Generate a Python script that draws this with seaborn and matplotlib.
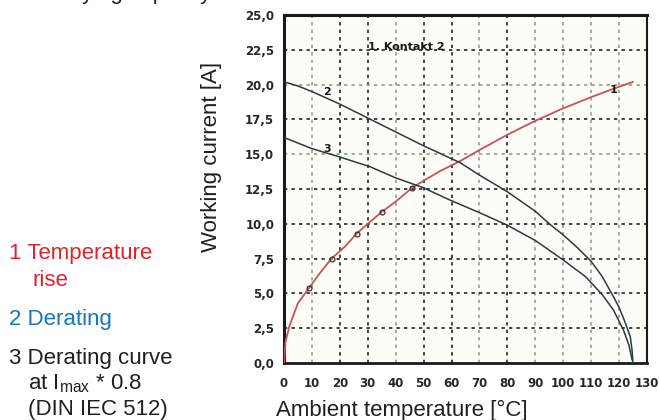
import matplotlib
matplotlib.use("Agg")
import matplotlib.pyplot as plt
import seaborn as sns
import pandas as pd

sns.set_style("white")
plt.rcParams["font.family"] = ["Liberation Sans", "DejaVu Sans"]
plt.rcParams["mathtext.fontset"] = "custom"
plt.rcParams["mathtext.rm"] = "Liberation Sans"

# --- data ---
rise_t = [0, 0.5, 2, 5, 9, 13, 17, 22, 26, 30, 35, 40, 46, 50, 56, 63, 70, 80, 90, 100, 110, 118, 125]
rise_i = [0, 1.5, 2.7, 4.3, 5.4, 6.5, 7.5, 8.4, 9.3, 10.0, 10.85, 11.6, 12.6, 13.1, 13.8, 14.5, 15.3, 16.4, 17.4, 18.3, 19.1, 19.7, 20.2]
rise_mark_t = [9, 17.2, 26.2, 35, 45.9]
rise_mark_i = [5.4, 7.5, 9.3, 10.85, 12.6]

derate_t = [0, 5, 10, 20, 30, 40, 50, 63, 70, 80, 90, 95, 100, 105, 110, 114, 117.6, 120, 122, 124, 124.6, 125]
derate_i = [20.2, 19.9, 19.5, 18.6, 17.6, 16.6, 15.6, 14.4, 13.5, 12.3, 10.9, 10.0, 9.2, 8.3, 7.3, 6.2, 4.9, 4.0, 3.0, 1.9, 1.0, 0]

curve08_t = [0, 5, 10, 20, 30.8, 40, 49.8, 59.5, 70, 80, 90, 100, 108, 114, 118, 121.5, 123.5, 124.7]
curve08_i = [16.2, 15.8, 15.4, 14.8, 14.1, 13.3, 12.6, 11.7, 10.8, 9.9, 8.8, 7.4, 6.2, 4.9, 3.8, 2.4, 1.3, 0.2]

x_ticks = list(range(0, 131, 10))
y_ticks = [0, 2.5, 5, 7.5, 10, 12.5, 15, 17.5, 20, 22.5, 25]
x_grid_dark = [20, 30, 50, 60, 80]
x_grid_light = [10, 40, 70, 90, 100, 110, 120]
y_grid_dark = [2.5, 5, 7.5, 10, 12.5, 17.5, 22.5]
y_grid_light = [15, 20]

fig = plt.figure(figsize=(6.59, 4.20), dpi=100)
ax = fig.add_axes([284 / 659, 1 - 363 / 420, 363 / 659, 348 / 420])
ax.set_facecolor("#fdfdf8")

# grid
for x in x_grid_dark:
    ax.axvline(x, color="#222222", lw=1.2, ls=(0, (2, 2.5)), zorder=1)
for x in x_grid_light:
    ax.axvline(x, color="#9a9a9a", lw=1.2, ls=(0, (2, 2.5)), zorder=1)
for y in y_grid_dark:
    ax.axhline(y, color="#222222", lw=1.2, ls=(0, (2, 2.5)), zorder=1)
for y in y_grid_light:
    ax.axhline(y, color="#8fa07a", lw=1.2, ls=(0, (2, 2.5)), zorder=1)

rise = pd.DataFrame({"t": rise_t, "i": rise_i})
derate = pd.DataFrame({"t": derate_t, "i": derate_i})
c08 = pd.DataFrame({"t": curve08_t, "i": curve08_i})

sns.lineplot(data=rise, x="t", y="i", ax=ax, color="#c8505f", lw=1.3, sort=False, zorder=3)
sns.lineplot(data=derate, x="t", y="i", ax=ax, color="#2c3b3b", lw=1.1, sort=False, zorder=3)
sns.lineplot(data=c08, x="t", y="i", ax=ax, color="#2c3b3b", lw=1.1, sort=False, zorder=3)
ax.plot(rise_mark_t, rise_mark_i, ls="none", marker="o", ms=3.5, mfc="none", mec="#333333", mew=0.9, zorder=4)

lab = dict(fontsize=8, fontweight="bold", color="#1a1a1a", family="DejaVu Sans")
ax.text(118, 19.6, "1", ha="center", va="center", **lab)
ax.text(15.4, 19.5, "2", ha="center", va="center", **lab)
ax.text(15.4, 15.4, "3", ha="center", va="center", **lab)
ax.text(30, 22.7, "1. Kontakt 2", ha="left", va="center", **lab)

ax.set_xlim(0, 130)
ax.set_ylim(0, 25)
ax.set_xticks(x_ticks)
ax.set_yticks(y_ticks)
ax.set_xticklabels([str(v) for v in x_ticks], fontsize=8.5, fontweight="bold", family="DejaVu Sans")
ax.set_yticklabels([f"{v:.1f}".replace(".", ",") for v in y_ticks], fontsize=8.5, fontweight="bold", family="DejaVu Sans")
ax.tick_params(axis="x", direction="out", length=8, width=1.8, pad=2, color="#222222")
ax.tick_params(axis="y", direction="out", length=6, width=1.8, pad=1, color="#222222")
for side, w in [("left", 2.2), ("bottom", 2.0), ("top", 2.2), ("right", 1.5)]:
    ax.spines[side].set_visible(True)
    ax.spines[side].set_linewidth(w)
    ax.spines[side].set_color("#1a1a1a")

ax.set_xlabel("Ambient temperature [°C]", fontsize=16, color="#231f20")
ax.set_ylabel("Working current [A]", fontsize=16, color="#231f20")
ax.xaxis.set_label_coords((402 - 284) / 363, (363 - 410) / 348)
ax.yaxis.set_label_coords((211 - 284) / 363, (363 - 157) / 348)
ax.xaxis.label.set_va("center")
ax.yaxis.label.set_va("center")

# heading above the figure, only its descenders show, as in the reference
fig.text(211 / 659, 1 + 1 / 420, "Current-carrying capacity", ha="right", va="baseline", fontsize=16, color="#231f20")

# side legend text
side = dict(fontsize=16, va="baseline")
fig.text(9 / 659, 1 - 259 / 420, "1 Temperature", color="#e3202b", **side)
fig.text(33 / 659, 1 - 286 / 420, "rise", color="#e3202b", **side)
fig.text(9 / 659, 1 - 325 / 420, "2 Derating", color="#1a75bb", **side)
fig.text(9 / 659, 1 - 364 / 420, "3 Derating curve", color="#231f20", **side)
fig.text(28 / 659, 1 - 389 / 420, r"at I$_{\mathrm{max}}$ * 0.8", color="#231f20", **side)
fig.text(28 / 659, 1 - 415 / 420, "(DIN IEC 512)", color="#231f20", **side)

fig.savefig("out.png", dpi=100)
